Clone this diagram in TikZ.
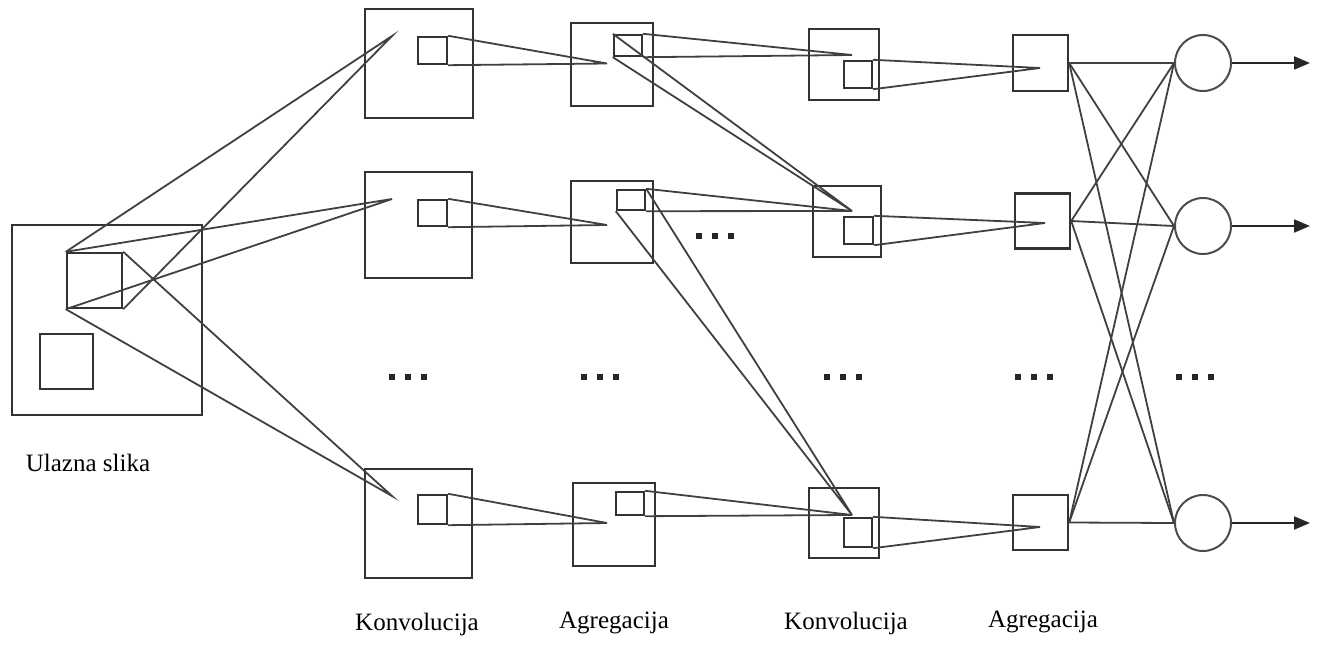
\documentclass[tikz,border=0pt]{standalone}
\usepackage{fontspec}
\setmainfont{Liberation Serif}
\usetikzlibrary{arrows.meta}
\begin{document}
\begin{tikzpicture}[x=1pt,y=-1pt,
  bx/.style={draw=black!80,line width=2.4pt,inner sep=0pt,minimum width=#1},
  conn/.style={draw=black!75,line width=1.8pt},
  outc/.style={draw=black!70,line width=2pt,circle,minimum size=56pt,inner sep=0pt},
  lbl/.style={font=\fontsize{25}{30}\selectfont,inner sep=0pt},
  dotm/.style={fill=black!85,inner sep=0pt,minimum size=5.5pt}]
\useasboundingbox (0,0) rectangle (1318,645);
% input
\node[bx=190pt,minimum height=190pt] (in) at (107,320) {};
\node[bx=55pt,minimum height=55pt] (ins1) at (94.5,280.5) {};
\node[bx=53pt,minimum height=55pt] (ins2) at (66.5,361.5) {};
% conv 1
\node[bx=108pt,minimum height=109pt] (c1a) at (419,63.5) {};
\node[bx=29pt,minimum height=27pt] (c1as) at (432.5,50.5) {};
\node[bx=107pt,minimum height=106pt] (c1b) at (418.5,225) {};
\node[bx=29pt,minimum height=26pt] (c1bs) at (432.5,213) {};
\node[bx=107pt,minimum height=109pt] (c1c) at (418.5,523.5) {};
\node[bx=29pt,minimum height=29pt] (c1cs) at (432.5,509.5) {};
% agg 1
\node[bx=82pt,minimum height=83pt] (a1a) at (612,64.5) {};
\node[bx=28pt,minimum height=21pt] (a1as) at (628,45.5) {};
\node[bx=82pt,minimum height=82pt] (a1b) at (612,222) {};
\node[bx=28pt,minimum height=20pt] (a1bs) at (631,200) {};
\node[bx=82pt,minimum height=83pt] (a1c) at (614,524.5) {};
\node[bx=28pt,minimum height=23pt] (a1cs) at (630,503.5) {};
% conv 2
\node[bx=70pt,minimum height=71pt] (c2a) at (844,64.5) {};
\node[bx=28pt,minimum height=27pt] (c2as) at (858,74.5) {};
\node[bx=68pt,minimum height=71pt] (c2b) at (847,221.5) {};
\node[bx=29pt,minimum height=27pt] (c2bs) at (858.5,230.5) {};
\node[bx=70pt,minimum height=70pt] (c2c) at (844,523) {};
\node[bx=28pt,minimum height=29pt] (c2cs) at (858,532.5) {};
% agg 2
\node[bx=55pt,minimum height=56pt] (a2a) at (1040.5,63) {};
\node[bx=55pt,minimum height=55pt] (a2b) at (1042.5,221) {};
\node[bx=55pt,minimum height=55pt] (a2c) at (1040.5,522.5) {};
% outputs
\node[outc] (o1) at (1203,63) {};
\node[outc] (o2) at (1203,226) {};
\node[outc] (o3) at (1203,523) {};
\coordinate (e1) at (1310,63);
\coordinate (e2) at (1310,226);
\coordinate (e3) at (1310,523);
% apex points
\coordinate (p1) at (392,36);
\coordinate (p2) at (392,199);
\coordinate (p3) at (392,496);
\coordinate (q1) at (607,63.5);
\coordinate (q2) at (607,225);
\coordinate (q3) at (607,523);
\coordinate (r1) at (852,55);
\coordinate (r2) at (852,211);
\coordinate (r3) at (852,515);
\coordinate (t1) at (1040,68);
\coordinate (t2) at (1045,223);
\coordinate (t3) at (1040,527);
% input -> conv1
\draw[conn] (ins1.north west) -- (p1) -- (ins1.south east);
\draw[conn] (ins1.north west) -- (p2) -- (ins1.south west);
\draw[conn] (ins1.north east) -- (p3) -- (ins1.south west);
% conv1 -> agg1
\draw[conn] (c1as.north east) -- (q1) -- (c1as.south east);
\draw[conn] (c1bs.north east) -- (q2) -- (c1bs.south east);
\draw[conn] (c1cs.north east) -- (q3) -- (c1cs.south east);
% agg1 -> conv2
\draw[conn] (a1as.north east) -- (r1) -- (a1as.south east);
\draw[conn] (a1as.north west) -- (r2) -- (a1as.south west);
\draw[conn] (a1bs.north east) -- (r2) -- (a1bs.south east);
\draw[conn] (a1bs.south west) -- (r3) -- (a1bs.north east);
\draw[conn] (a1cs.north east) -- (r3) -- (a1cs.south east);
% conv2 -> agg2
\draw[conn] (c2as.north east) -- (t1) -- (c2as.south east);
\draw[conn] (c2bs.north east) -- (t2) -- (c2bs.south east);
\draw[conn] (c2cs.north east) -- (t3) -- (c2cs.south east);
% agg2 -> outputs
\foreach \a in {a2a,a2b,a2c}{
  \foreach \o in {o1,o2,o3}{
    \draw[conn] (\a.east) -- (\o.west);
  }
}
\foreach \o/\e in {o1/e1,o2/e2,o3/e3}{
  \draw[draw=black!85,line width=2pt,-{Triangle[length=16pt,width=13pt]}] (\o.east) -- (\e);
}
% dots
\foreach \cx/\cy [count=\i] in {408/377,600/377,843/377,1034/377,1195/377,715/236}{
  \node[dotm] (d\i a) at (\cx-16,\cy) {};
  \node[dotm] (d\i b) at (\cx,\cy) {};
  \node[dotm] (d\i c) at (\cx+16,\cy) {};
}
% labels
\node[lbl] (l0) at (88,463) {Ulazna slika};
\node[lbl] (l1) at (417,624) {Konvolucija};
\node[lbl] (l2) at (614,623) {Agregacija};
\node[lbl] (l3) at (846,623) {Konvolucija};
\node[lbl] (l4) at (1043,622) {Agregacija};
\end{tikzpicture}
\end{document}
